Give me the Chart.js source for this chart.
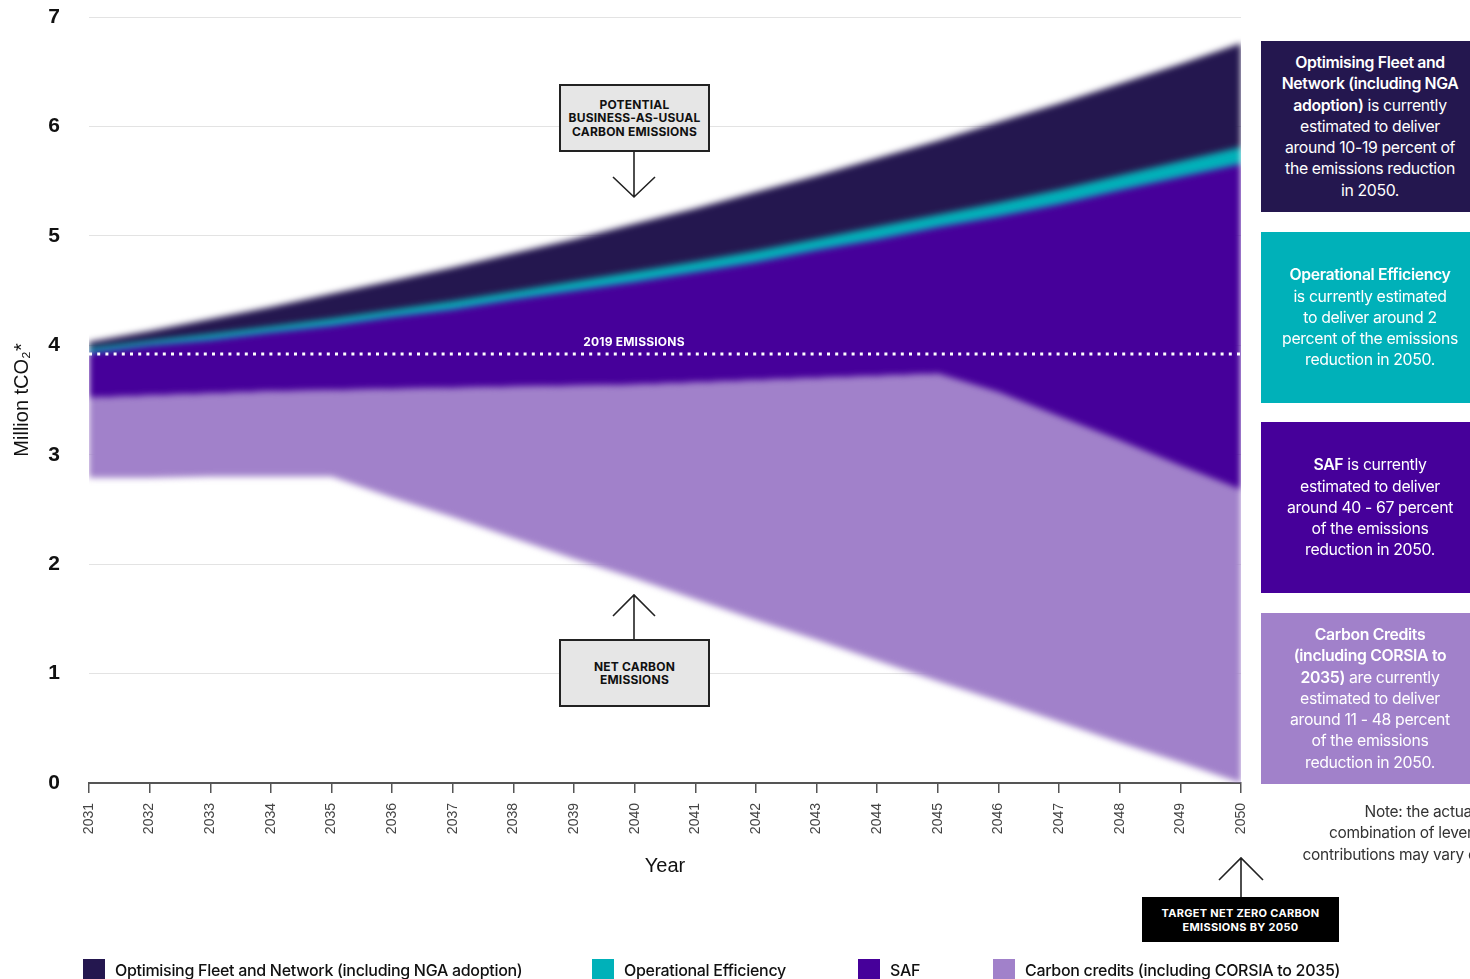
<!DOCTYPE html>
<html>
<head>
<meta charset="utf-8">
<script src="https://cdn.jsdelivr.net/npm/chart.js@4.4.1/dist/chart.umd.min.js"></script>
<style>
  * { box-sizing: border-box; }
  body { margin: 0; width: 1470px; height: 979px; overflow: hidden; background: #fff; position: relative; font-family: Inter, "Noto Sans", sans-serif; }
  .layer { position: absolute; left: 0; top: 0; }
  #clip { position: absolute; left: 89px; top: 17px; width: 1152px; height: 766px; overflow: hidden; }
  #areas { position: absolute; left: -89px; top: -17px; filter: blur(3px); }

  .callout { position: absolute; background: #e6e6e6; border: 2px solid #222; color: #111; font: 700 12px/13.5px Inter, sans-serif; text-align: center; display: flex; align-items: center; justify-content: center; letter-spacing: 0.2px; }
  .target { position: absolute; background: #000; color: #fff; font: 700 11px/14px Inter, sans-serif; text-align: center; display: flex; align-items: center; justify-content: center; letter-spacing: 0.3px; }
  .label2019 { position: absolute; left: 534px; width: 200px; top: 334px; text-align: center; color: #fff; font: 700 12px Inter, sans-serif; letter-spacing: 0.2px; }

  .panel { position: absolute; left: 1261px; width: 218px; height: 171px; color: #fff; font: 400 15.8px/21.3px Inter, sans-serif; letter-spacing: -0.35px; text-align: center; display: flex; align-items: center; justify-content: center; }
  .panel b { font-weight: 600; }
  .note { position: absolute; left: 1300px; width: 240px; top: 801px; color: #333; font: 400 15.5px/21.3px Inter, sans-serif; letter-spacing: -0.3px; text-align: center; white-space: nowrap; }

  .legend-item { position: absolute; top: 959px; height: 22px; display: flex; align-items: flex-start; font: 500 16px/22px Inter, sans-serif; color: #111; letter-spacing: -0.3px; white-space: nowrap; }
  .legend-item span { display: inline-block; width: 22px; height: 22px; margin-right: 10px; }
</style>
</head>
<body>

<canvas id="base" class="layer" width="1250" height="890"></canvas>
<div id="clip"><canvas id="areas" width="1250" height="890"></canvas></div>
<canvas id="top" class="layer" width="1250" height="890"></canvas>

<!-- arrows -->
<svg class="layer" width="1470" height="979" style="pointer-events:none">
  <g stroke="#222" stroke-width="1.6" fill="none">
    <path d="M634 151 L634 197 M613 177 L634 197 L655 177" />
    <path d="M634 640 L634 595 M613 616 L634 595 L655 616" />
    <path d="M1241 897 L1241 858 M1219 880 L1241 858 L1263 880" />
  </g>
</svg>

<div class="callout" style="left:559px; top:84px; width:151px; height:68px;">POTENTIAL<br>BUSINESS-AS-USUAL<br>CARBON EMISSIONS</div>
<div class="callout" style="left:559px; top:639px; width:151px; height:68px;">NET CARBON<br>EMISSIONS</div>
<div class="label2019">2019 EMISSIONS</div>
<div class="target" style="left:1142px; top:897px; width:197px; height:45px;">TARGET NET ZERO CARBON<br>EMISSIONS BY 2050</div>

<div class="panel" style="top:41px; background:#24174f;"><div><b>Optimising Fleet and<br>Network (including NGA<br>adoption)</b> is currently<br>estimated to deliver<br>around 10-19 percent of<br>the emissions reduction<br>in 2050.</div></div>
<div class="panel" style="top:232px; background:#00b1b9;"><div><b>Operational Efficiency</b><br>is currently estimated<br>to deliver around 2<br>percent of the emissions<br>reduction in 2050.</div></div>
<div class="panel" style="top:422px; background:#46009a;"><div><b>SAF</b> is currently<br>estimated to deliver<br>around 40 - 67 percent<br>of the emissions<br>reduction in 2050.</div></div>
<div class="panel" style="top:613px; background:#a181ca;"><div><b>Carbon Credits<br>(including CORSIA to<br>2035)</b> are currently<br>estimated to deliver<br>around 11 - 48 percent<br>of the emissions<br>reduction in 2050.</div></div>
<div class="note">Note: the actual<br>combination of levers and<br>contributions may vary over time.</div>

<div class="legend-item" style="left:83px;"><span style="background:#24174f"></span>Optimising Fleet and Network (including NGA adoption)</div>
<div class="legend-item" style="left:592px;"><span style="background:#00b1b9"></span>Operational Efficiency</div>
<div class="legend-item" style="left:858px;"><span style="background:#46009a"></span>SAF</div>
<div class="legend-item" style="left:993px;"><span style="background:#a181ca"></span>Carbon credits (including CORSIA to 2035)</div>

<script>
// data (million tCO2), one boundary per line
const years = ["2031","2032","2033","2034","2035","2036","2037","2038","2039","2040",
               "2041","2042","2043","2044","2045","2046","2047","2048","2049","2050"];
const yTicks = [0, 1, 2, 3, 4, 5, 6, 7];

// top of the stack: potential business-as-usual emissions
const bauEmissions   = [4.03, 4.13, 4.24, 4.35, 4.47, 4.59, 4.71, 4.84, 4.97, 5.11,
                        5.25, 5.40, 5.55, 5.71, 5.87, 6.04, 6.21, 6.39, 6.57, 6.76];
// below fleet & network band = top of operational efficiency band
const efficiencyTop  = [3.97, 4.04, 4.10, 4.17, 4.24, 4.32, 4.40, 4.49, 4.58, 4.67,
                        4.76, 4.86, 4.97, 5.08, 5.19, 5.30, 5.42, 5.55, 5.68, 5.81];
// top of SAF band
const safTop         = [3.93, 4.00, 4.05, 4.12, 4.18, 4.26, 4.33, 4.42, 4.50, 4.58,
                        4.67, 4.76, 4.87, 4.97, 5.08, 5.18, 5.29, 5.42, 5.54, 5.66];
// top of carbon credits band
const creditsTop     = [3.52, 3.54, 3.56, 3.58, 3.59, 3.60, 3.61, 3.62, 3.63, 3.64,
                        3.66, 3.68, 3.70, 3.72, 3.74, 3.57, 3.35, 3.13, 2.90, 2.68];
// net carbon emissions
const netEmissions   = [2.79, 2.79, 2.80, 2.80, 2.80, 2.61, 2.43, 2.24, 2.05, 1.87,
                        1.68, 1.49, 1.31, 1.12, 0.93, 0.75, 0.56, 0.37, 0.19, 0.00];
const emissions2019 = 3.92;

const NAVY = "#24174f", TEAL = "#00b1b9", SAF = "#46009a", CREDITS = "#a181ca";
const FONT = "'Liberation Sans', Arial, sans-serif";

function buildOptions(visible) {
  const c = (col) => visible ? col : "transparent";
  return {
    responsive: false,
    animation: false,
    events: [],
    layout: { padding: { top: 17, right: 9, left: 0, bottom: 0 } },
    plugins: { legend: { display: false }, tooltip: { enabled: false } },
    elements: { point: { radius: 0 }, line: { tension: 0 } },
    scales: {
      x: {
        type: "category",
        offset: false,
        grid: { display: visible, drawOnChartArea: false, drawTicks: true, tickLength: 10, color: "#555", lineWidth: 1.5 },
        border: { display: visible, color: "#555", width: 2 },
        ticks: { color: c("#444"), font: { family: FONT, size: 14 }, maxRotation: 90, minRotation: 90, autoSkip: false, padding: 10 },
        title: { display: true, text: "Year", color: c("#111"), font: { family: FONT, size: 20 }, padding: { top: 0, bottom: 12 } },
        afterFit: (s) => { s.height = 107; s.paddingLeft = 0; s.paddingRight = 0; }
      },
      y: {
        min: 0, max: 7,
        afterBuildTicks: (s) => { s.ticks = yTicks.map(v => ({ value: v })); },
        grid: { display: visible, color: "#e3e3e3", lineWidth: 1, drawTicks: false },
        border: { display: false },
        ticks: { color: c("#111"), font: { family: FONT, size: 21, weight: "bold" }, padding: 29 },
        title: { display: true, text: "Million tCO₂*", color: c("#111"), font: { family: FONT, size: 20 }, padding: { top: 10, bottom: 0 } },
        afterFit: (s) => { s.width = 89; s.paddingTop = 0; s.paddingBottom = 0; }
      }
    }
  };
}

const band = (label, data, color) => ({
  label, data, fill: "-1", backgroundColor: color, borderWidth: 0, borderColor: "transparent", pointRadius: 0
});

// base: grid, ticks, titles
new Chart(document.getElementById("base"), {
  type: "line",
  data: { labels: years, datasets: [] },
  options: buildOptions(true)
});

// areas (blurred through CSS)
new Chart(document.getElementById("areas"), {
  type: "line",
  data: {
    labels: years,
    datasets: [
      { label: "Net carbon emissions", data: netEmissions, fill: false, borderWidth: 0, borderColor: "transparent", pointRadius: 0 },
      band("Carbon credits (including CORSIA to 2035)", creditsTop, CREDITS),
      band("SAF", safTop, SAF),
      band("Operational Efficiency", efficiencyTop, TEAL),
      band("Optimising Fleet and Network (including NGA adoption)", bauEmissions, NAVY)
    ]
  },
  options: buildOptions(false)
});

// 2019 emissions dotted line on top
new Chart(document.getElementById("top"), {
  type: "line",
  data: {
    labels: years,
    datasets: [{
      label: "2019 emissions",
      data: years.map(() => emissions2019),
      borderColor: "#ffffff", borderWidth: 3, borderDash: [3, 5.2], fill: false, pointRadius: 0
    }]
  },
  options: buildOptions(false)
});
</script>
</body>
</html>
